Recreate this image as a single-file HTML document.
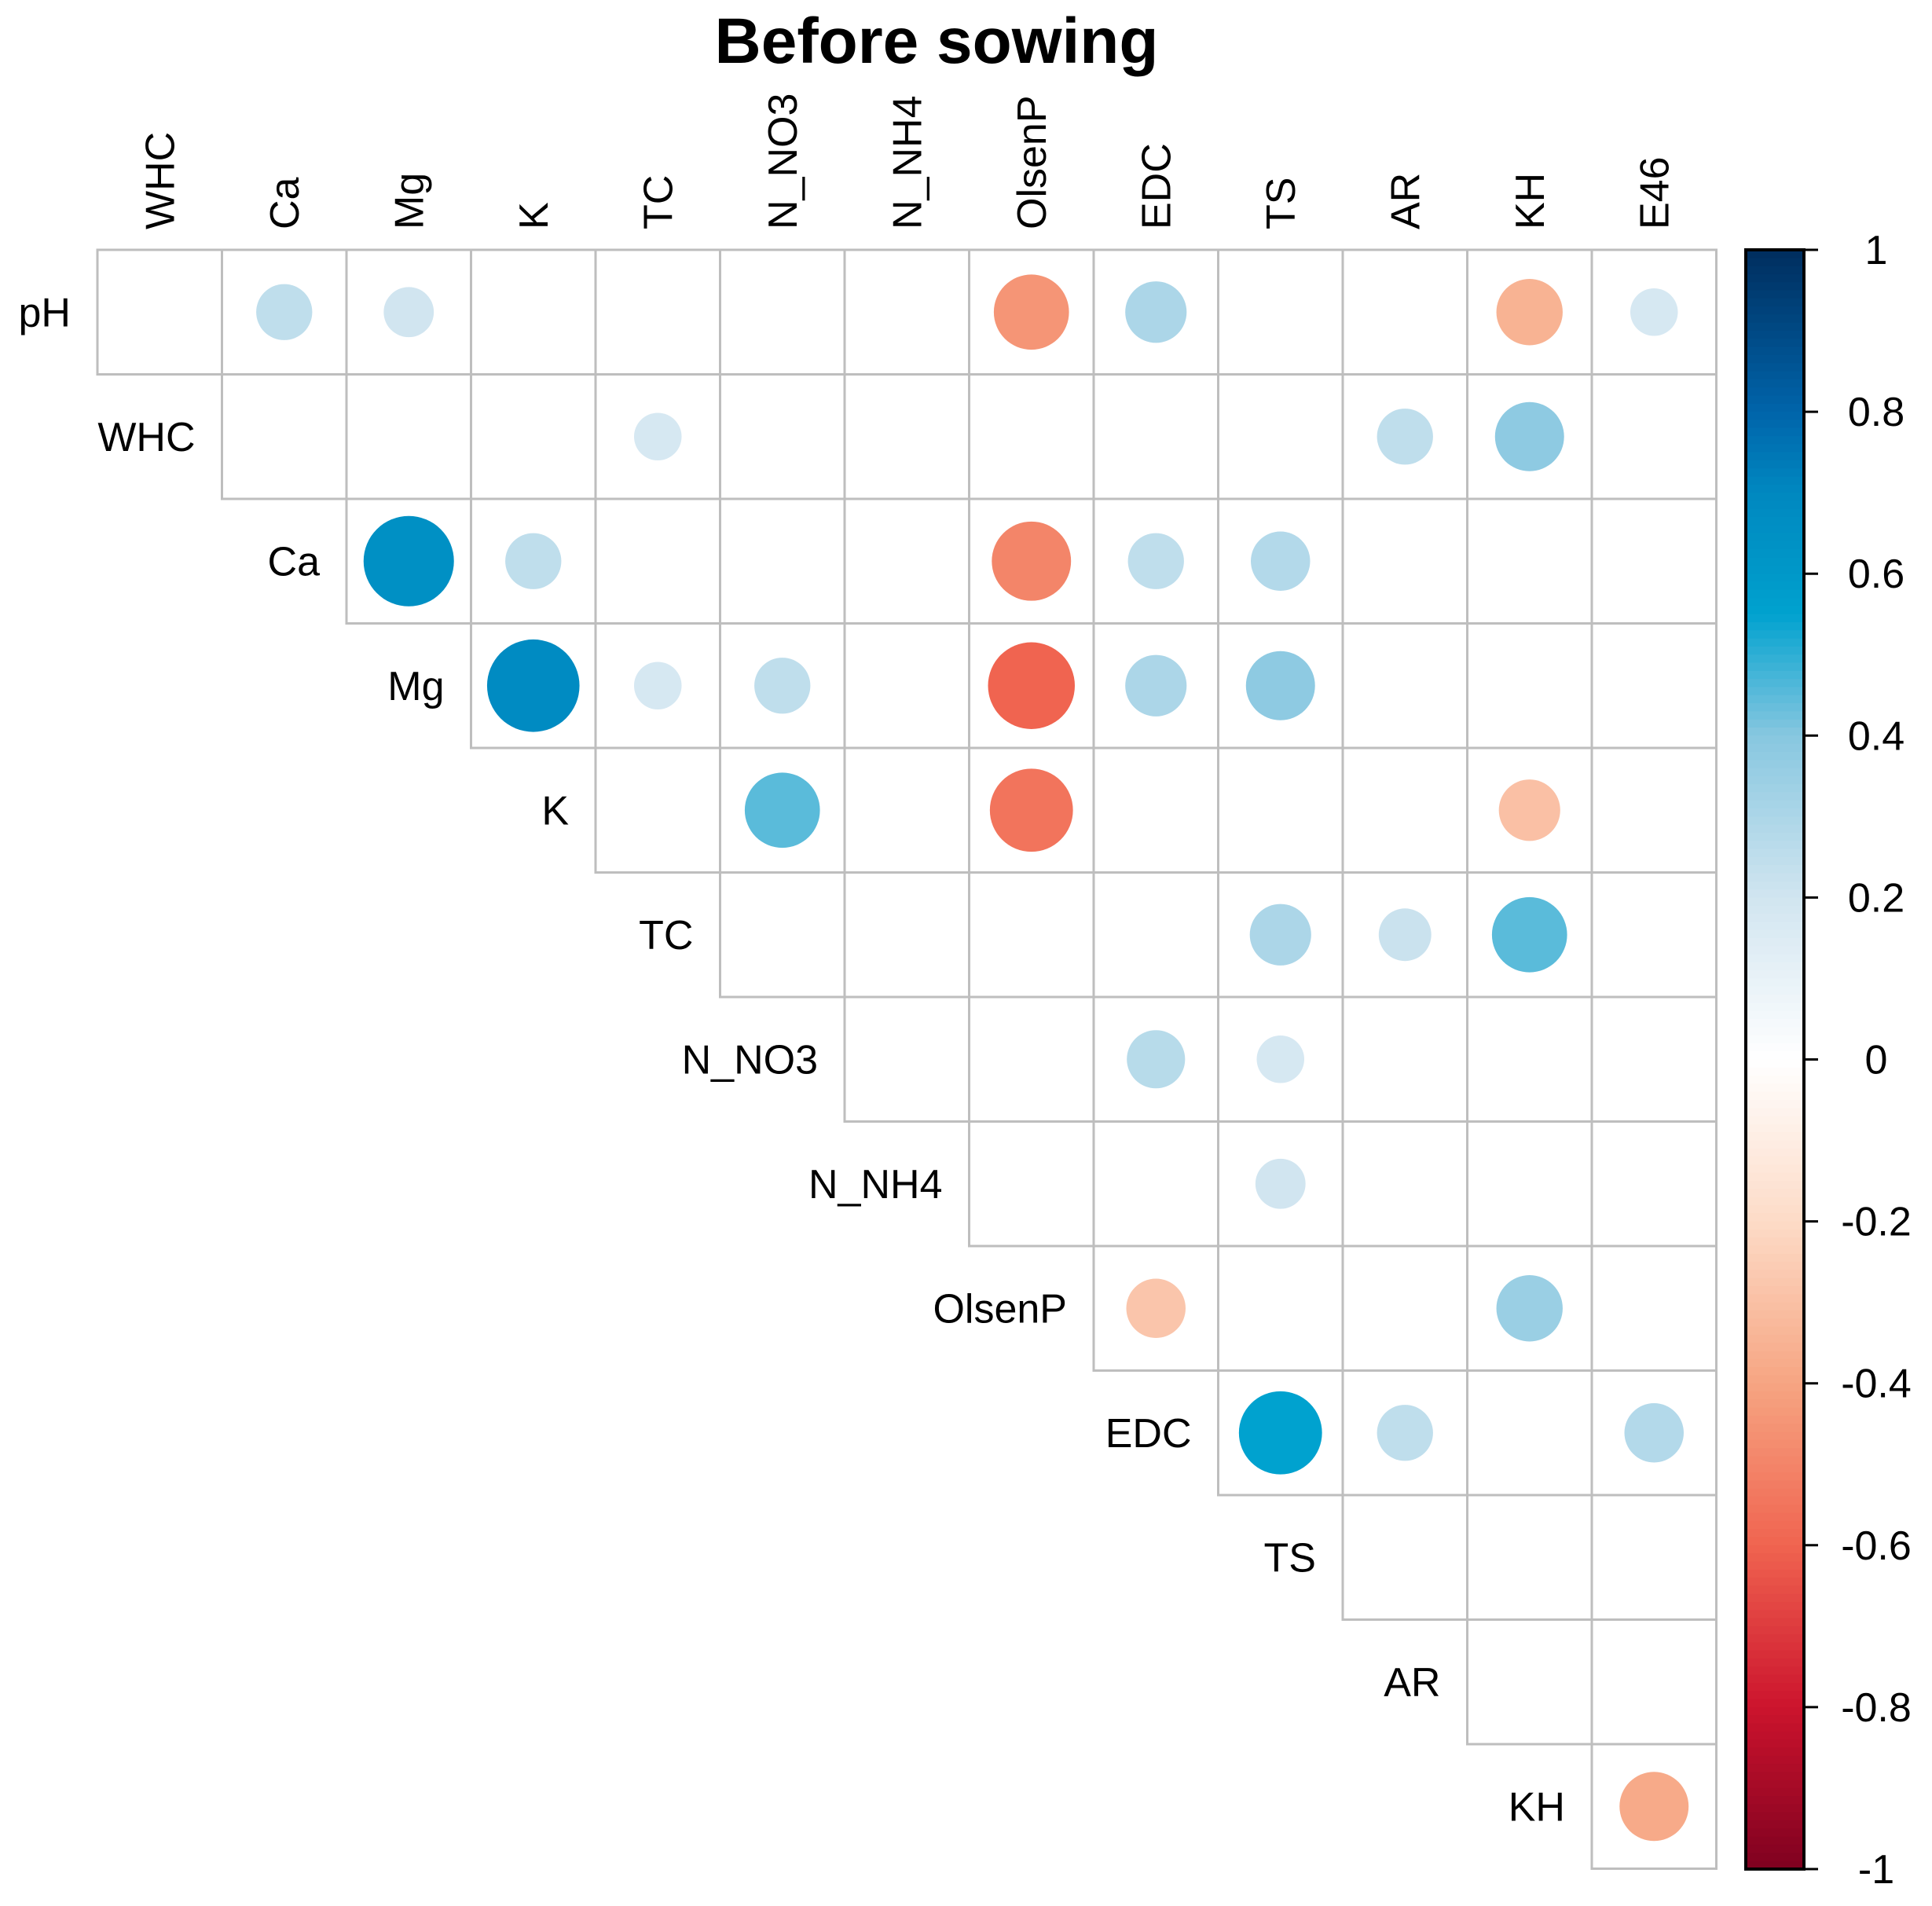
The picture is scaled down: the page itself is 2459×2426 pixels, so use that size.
<!DOCTYPE html>
<html><head><meta charset="utf-8"><style>
html,body{margin:0;padding:0;background:#fff;}
svg{display:block;font-family:"Liberation Sans",Arial,sans-serif;}
</style></head><body>
<svg id="chart" width="2459" height="2426" viewBox="0 0 2459 2426" xmlns="http://www.w3.org/2000/svg">
<text x="1192" y="80" font-size="82" font-weight="bold" text-anchor="middle">Before sowing</text>
<g id="grid"></g><g id="circles"></g><g id="labels"></g><g id="cbar"></g>
</svg>
<script>
const vars = ["pH","WHC","Ca","Mg","K","TC","N_NO3","N_NH4","OlsenP","EDC","TS","AR","KH","E46"];
const corrRows = ["pH","pH","pH","pH","pH","pH","WHC","WHC","WHC","Ca","Ca","Ca","Ca","Ca","Mg","Mg","Mg","Mg","Mg","Mg","K","K","K","TC","TC","TC","N_NO3","N_NO3","N_NH4","OlsenP","OlsenP","EDC","EDC","EDC","KH"];
const corrCols = ["Ca","Mg","OlsenP","EDC","KH","E46","TC","AR","KH","Mg","K","OlsenP","EDC","TS","K","TC","N_NO3","OlsenP","EDC","TS","N_NO3","OlsenP","KH","TS","AR","KH","EDC","TS","TS","EDC","KH","TS","AR","E46","E46"];
const corrValues = [0.25,0.2,-0.45,0.3,-0.35,0.18,0.18,0.25,0.38,0.65,0.25,-0.5,0.25,0.28,0.68,0.18,0.25,-0.6,0.3,0.38,0.45,-0.55,-0.3,0.3,0.22,0.45,0.27,0.18,0.2,-0.28,0.35,0.55,0.25,0.28,-0.38];
const cbarTicks = [1,0.8,0.6,0.4,0.2,0,-0.2,-0.4,-0.6,-0.8,-1];

const NS="http://www.w3.org/2000/svg";
const X0=124, Y0=318, CELL=158.5, N=13;
const xPos = j => X0 + j*CELL;
const yPos = i => Y0 + i*CELL;
const stops=[[-1,[127,0,32]],[-0.8,[204,20,45]],[-0.6,[240,100,80]],[-0.4,[246,165,130]],[-0.2,[253,219,199]],[0,[255,255,255]],[0.2,[209,229,240]],[0.4,[135,199,224]],[0.55,[0,162,207]],[0.6,[0,152,200]],[0.7,[0,136,192]],[0.8,[0,100,170]],[1,[0,46,94]]];
function color(v){for(let k=0;k<stops.length-1;k++){const a=stops[k],b=stops[k+1];if(v>=a[0]&&v<=b[0]){const t=(v-a[0])/(b[0]-a[0]);const c=a[1].map((x,i)=>Math.round(x+(b[1][i]-x)*t));return `rgb(${c.join(',')})`;}}return '#fff';}
function mk(tag,attrs,parent){const e=document.createElementNS(NS,tag);for(const k in attrs)e.setAttribute(k,attrs[k]);parent.appendChild(e);return e;}

const grid=document.getElementById('grid');
for(let r=0;r<N;r++){for(let c=r;c<N;c++){
  const e=mk('rect',{x:xPos(c),y:yPos(r),width:CELL,height:CELL,fill:'none',stroke:'#bebebe','stroke-width':3},grid);
  
  
}}
const circ=document.getElementById('circles');
corrValues.forEach((v,k)=>{
  const r=vars.indexOf(corrRows[k]); const c=vars.indexOf(corrCols[k])-1;
  const rad=0.45*CELL*Math.sqrt(Math.abs(v));
  const e=mk('circle',{cx:xPos(c)+CELL/2,cy:yPos(r)+CELL/2,r:rad,fill:color(v)},circ);
  
  
});
const lab=document.getElementById('labels');
for(let r=0;r<N;r++){
  const t=mk('text',{x:xPos(r)-34,y:yPos(r)+CELL/2+18,'font-size':52,'text-anchor':'end'},lab);
  t.textContent=vars[r];
  
  
}
for(let c=0;c<N;c++){
  const cx=xPos(c)+CELL/2+18, cy=292;
  const t=mk('text',{x:cx,y:cy,'font-size':52,transform:`rotate(-90 ${cx} ${cy})`},lab);
  t.textContent=vars[c+1];
  
  
}
const cb=document.getElementById('cbar');
const CBX=2222, CBW=74, CBT=318, CBB=2379;
const cy = v => CBT + (1-v)/2*(CBB-CBT);
const steps=200;
for(let s=0;s<steps;s++){
  const v1=1-s*2/steps, v2=1-(s+1)*2/steps;
  const e=mk('rect',{x:CBX,y:cy(v1),width:CBW,height:cy(v2)-cy(v1)+0.6,fill:color((v1+v2)/2)},cb);
  
  
}
const bd=mk('rect',{x:CBX,y:CBT,width:CBW,height:CBB-CBT,fill:'none',stroke:'#000','stroke-width':4},cb);


cbarTicks.forEach(v=>{
  const l=mk('line',{x1:CBX+CBW,x2:CBX+CBW+18,y1:cy(v),y2:cy(v),stroke:'#000','stroke-width':3},cb);
  
  
  const t=mk('text',{x:2388,y:cy(v)+18,'font-size':52,'text-anchor':'middle'},cb);
  t.textContent=String(v);
  
  
});
</script>
</body></html>
